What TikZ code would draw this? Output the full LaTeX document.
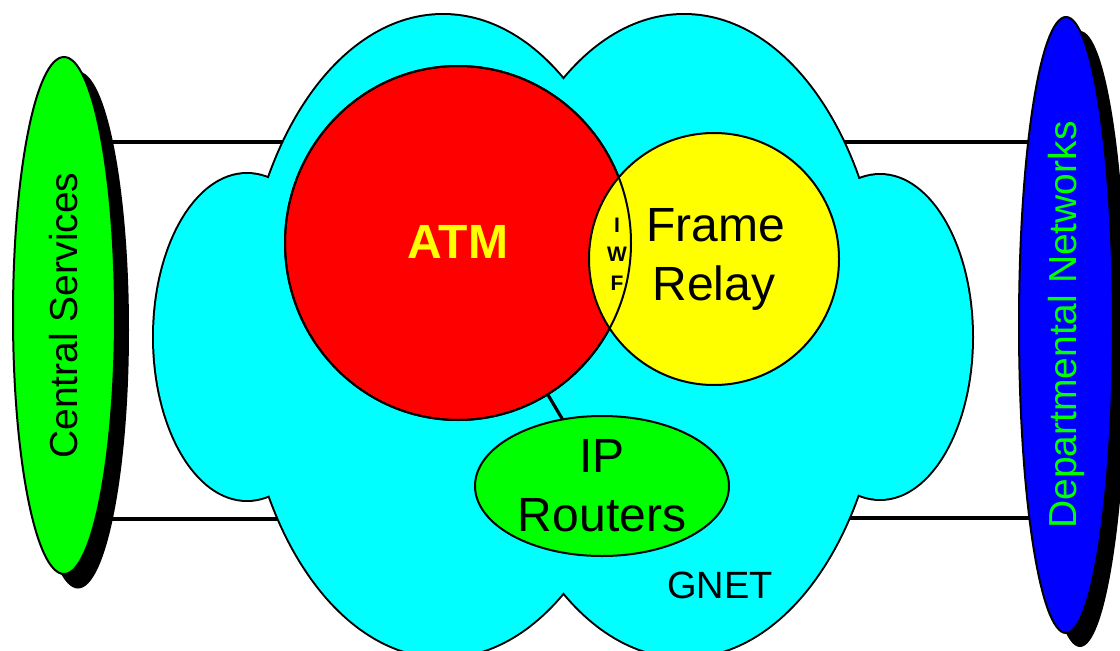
\documentclass[tikz,border=0pt]{standalone}
\usepackage{fontspec}
\setmainfont{Liberation Sans}
\usetikzlibrary{shapes.geometric}
\definecolor{gcyan}{RGB}{0,255,255}
\definecolor{gred}{RGB}{255,0,0}
\definecolor{gyellow}{RGB}{255,255,0}
\definecolor{ggreen}{RGB}{0,255,0}
\definecolor{gblue}{RGB}{0,0,255}
\begin{document}
\begin{tikzpicture}[x=1pt,y=-1pt,
  outline/.style={draw=black, line width=2pt},
  link/.style={draw=black, line width=3.2pt},
  blob/.style={ellipse, outline, inner sep=0pt, align=center},
  shadowfill/.style={fill=black},
  lobeedge/.style={draw=black, line width=4pt},
  lobefill/.style={fill=gcyan},
  bigtext/.style={font=\fontsize{48}{59}\selectfont},
  sidetext/.style={font=\fontsize{39}{47}\selectfont}]
\useasboundingbox (0,0) rectangle (1120,651);
\clip (0,0) rectangle (1120,651);

% connector end points at the cloud and the side ellipses
\coordinate (csA) at (100,142);
\coordinate (csB) at (100,519);
\coordinate (clA) at (300,142);
\coordinate (clB) at (300,519);
\coordinate (crA) at (830,142);
\coordinate (crB) at (830,518);
\coordinate (dnA) at (1040,142);
\coordinate (dnB) at (1040,518);
\draw[link] (csA) -- (clA);
\draw[link] (csB) -- (clB);
\draw[link] (crA) -- (dnA);
\draw[link] (crB) -- (dnB);

% shadows
\fill[shadowfill] (78,330) ellipse [x radius=51, y radius=258.5];
\fill[shadowfill] (1080,339) ellipse [x radius=47, y radius=308];

% side ellipses
\node[blob, fill=ggreen, minimum width=517pt, minimum height=102pt, rotate=90, sidetext] (cs) at (64,315.5) {Central Services};
\node[blob, fill=gblue, minimum width=616pt, minimum height=94pt, rotate=90, sidetext, text=ggreen] (dn) at (1066,325) {Departmental Networks};

% GNET cloud
\path[lobeedge] (443,336) ellipse [x radius=200, y radius=321];
\path[lobeedge] (684,336) ellipse [x radius=200, y radius=321];
\path[lobeedge] (247,337) ellipse [x radius=93, y radius=163];
\path[lobeedge] (880,337) ellipse [x radius=92, y radius=162];
\path[lobefill] (443,336) ellipse [x radius=200, y radius=321];
\path[lobefill] (684,336) ellipse [x radius=200, y radius=321];
\path[lobefill] (247,337) ellipse [x radius=93, y radius=163];
\path[lobefill] (880,337) ellipse [x radius=92, y radius=162];

% ATM and Frame Relay
\node[blob, fill=gred, minimum width=346pt, minimum height=354pt, text=gyellow, font=\bfseries\fontsize{48}{59}\selectfont] (atm) at (458,243) {\raisebox{3pt}{ATM}};
\node[blob, fill=gyellow, minimum width=250pt, minimum height=252pt, bigtext] (fr) at (714,259) {\hspace*{4pt}Frame\\Relay};
\draw[outline] (atm.center) ellipse [x radius=173, y radius=177];
\node[font=\bfseries\fontsize{21}{29}\selectfont, align=center, inner sep=0pt] (iwf) at (617,254) {I\\W\\F};

% IP Routers
\draw[link] (atm) -- (602,486);
\node[blob, fill=ggreen, minimum width=254pt, minimum height=140pt, bigtext] (ip) at (602,486) {IP\\Routers};

\node[font=\fontsize{38}{46}\selectfont, inner sep=0pt] (gnet) at (720,585) {GNET};
\end{tikzpicture}
\end{document}
